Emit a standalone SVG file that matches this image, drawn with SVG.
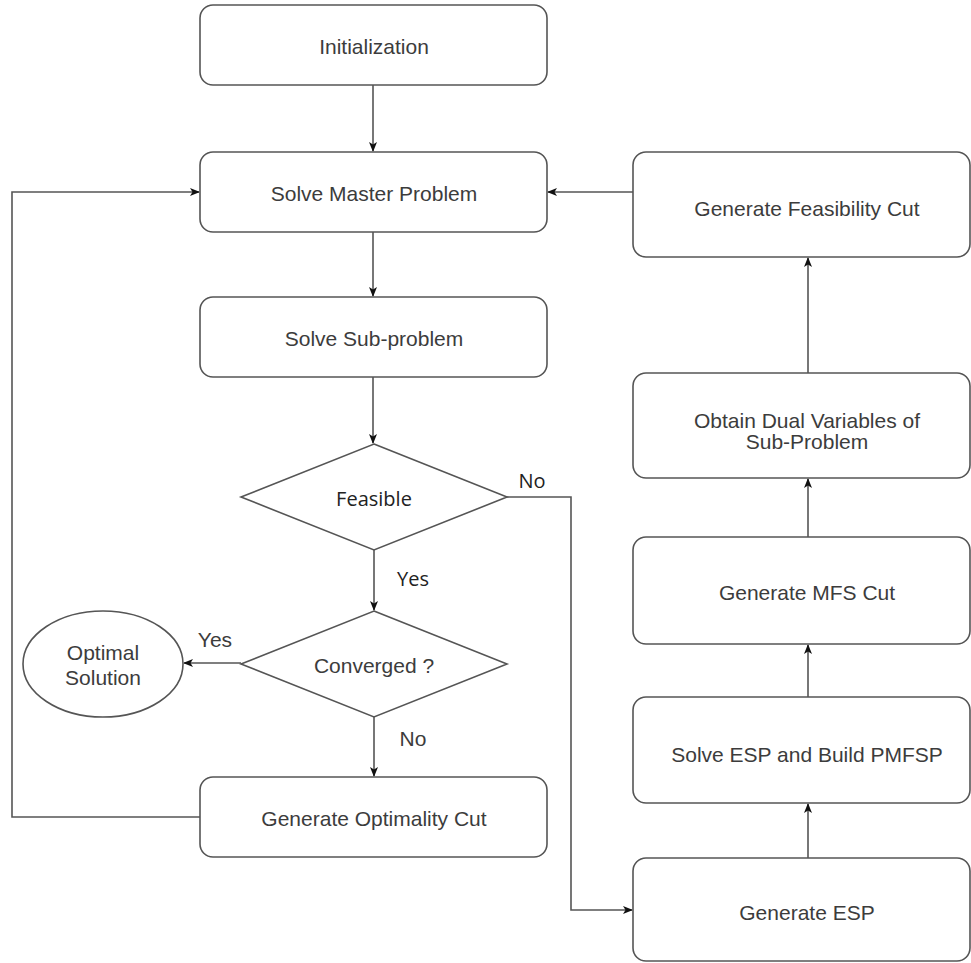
<svg xmlns="http://www.w3.org/2000/svg" width="971" height="963" viewBox="0 0 971 963">
<style>
.box{fill:#fff;stroke:#555;stroke-width:1.6}
.t{font-family:"Liberation Sans",Arial,sans-serif;font-size:21px;fill:#3c3c3c;text-anchor:middle;dominant-baseline:central}
.c{font-family:"Open Sans","Noto Sans",sans-serif;font-size:20px;fill:#222;text-anchor:middle;dominant-baseline:central}
.ln{fill:none;stroke:#555;stroke-width:1.6}
</style>
<defs>
<marker id="ah" markerWidth="10" markerHeight="10" refX="9" refY="5" orient="auto" markerUnits="userSpaceOnUse">
<path d="M0,1 L10,5 L0,9 L2.5,5 Z" fill="#111"/>
</marker>
</defs>
<rect width="971" height="963" fill="#fff"/>
<g id="connectors">
<path class="ln" d="M373,85 V151" marker-end="url(#ah)"/>
<path class="ln" d="M373,232 V296" marker-end="url(#ah)"/>
<path class="ln" d="M373,377 V443" marker-end="url(#ah)"/>
<path class="ln" d="M374,550 V610" marker-end="url(#ah)"/>
<path class="ln" d="M241,663 H184" marker-end="url(#ah)"/>
<path class="ln" d="M374,717 V776" marker-end="url(#ah)"/>
<path class="ln" d="M200,817 H12 V192 H199" marker-end="url(#ah)"/>
<path class="ln" d="M507,497 H571 V910 H632" marker-end="url(#ah)"/>
<path class="ln" d="M808,858 V804" marker-end="url(#ah)"/>
<path class="ln" d="M808,697 V645" marker-end="url(#ah)"/>
<path class="ln" d="M808,537 V479" marker-end="url(#ah)"/>
<path class="ln" d="M808,373 V258" marker-end="url(#ah)"/>
<path class="ln" d="M633,192 H548" marker-end="url(#ah)"/>
<text class="c" x="413" y="578">Yes</text>
<text class="c" x="532" y="480">No</text>
<text class="t" x="215" y="639">Yes</text>
<text class="t" x="413" y="738">No</text>
</g>
<g id="init"><rect class="box" x="200" y="5" width="347" height="80" rx="13"/><text class="t" x="374" y="46">Initialization</text></g>
<g id="master"><rect class="box" x="200" y="152" width="347" height="80" rx="13"/><text class="t" x="374" y="193">Solve Master Problem</text></g>
<g id="sub"><rect class="box" x="200" y="297" width="347" height="80" rx="13"/><text class="t" x="374" y="338">Solve Sub-problem</text></g>
<g id="feasible"><polygon class="box" points="374,444 507,497 374,550 241,497"/><text class="c" x="374" y="498">Feasible</text></g>
<g id="converged"><polygon class="box" points="374,611 507,664 374,717 241,664"/><text class="t" x="374" y="665">Converged ?</text></g>
<g id="optimal"><ellipse class="box" cx="103" cy="664" rx="80" ry="53"/><text class="t" x="103" y="652">Optimal</text><text class="t" x="103" y="677">Solution</text></g>
<g id="optcut"><rect class="box" x="200" y="777" width="347" height="80" rx="13"/><text class="t" x="374" y="818">Generate Optimality Cut</text></g>
<g id="feascut"><rect class="box" x="633" y="152" width="337" height="105" rx="13"/><text class="t" x="807" y="208">Generate Feasibility Cut</text></g>
<g id="dual"><rect class="box" x="633" y="373" width="337" height="105" rx="13"/><text class="t" x="807" y="420">Obtain Dual Variables of</text><text class="t" x="807" y="441">Sub-Problem</text></g>
<g id="mfs"><rect class="box" x="633" y="537" width="337" height="107" rx="13"/><text class="t" x="807" y="592">Generate MFS Cut</text></g>
<g id="solveesp"><rect class="box" x="633" y="697" width="337" height="106" rx="13"/><text class="t" x="807" y="754">Solve ESP and Build PMFSP</text></g>
<g id="genesp"><rect class="box" x="633" y="858" width="337" height="103" rx="13"/><text class="t" x="807" y="912">Generate ESP</text></g>
</svg>
